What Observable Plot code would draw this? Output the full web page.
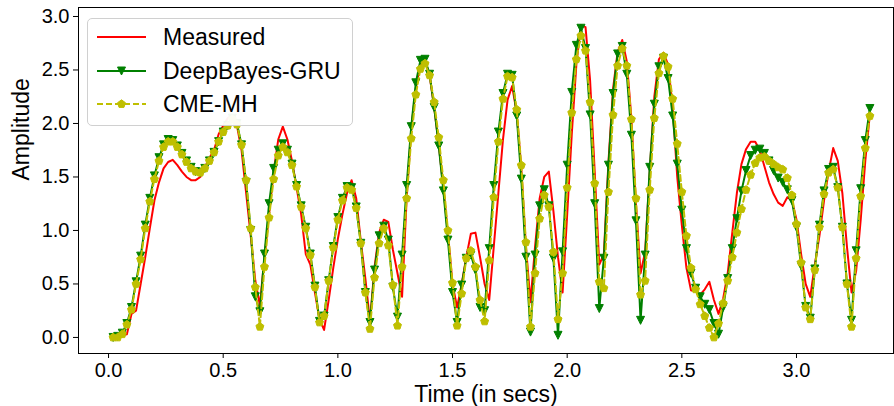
<!DOCTYPE html>
<html>
<head>
<meta charset="utf-8">
<script src="https://cdn.jsdelivr.net/npm/d3@7"></script>
<script src="https://cdn.jsdelivr.net/npm/@observablehq/plot@0.6"></script>
<style>
  html, body { margin: 0; padding: 0; background: #fff; }
  #wrap { position: relative; width: 894px; height: 406px; font-family: "Liberation Sans", Arial, sans-serif; }
  #wrap svg.plot { position: relative; z-index: 0; }
  .legend { position: absolute; z-index: 2; left: 87px; top: 18px; width: 266px; height: 108px; box-sizing: border-box;
            border: 1px solid #d0d0d0; border-radius: 5px; background: rgba(255,255,255,0.95); }
  .legend svg { position: absolute; left: 8px; }
  .legend span { position: absolute; left: 75px; font-size: 23px; line-height: 26px; color: #000; white-space: nowrap; }
</style>
</head>
<body>
<div id="wrap"></div>
<script>
// Sample times (secs): uniform 0.02 s grid, 166 samples
const sampleStep = 0.02;
const sampleCount = 166;
const time = d3.range(sampleCount).map(i => +(sampleStep * (i + 1)).toFixed(2));

const seriesNames = ["Measured", "DeepBayes-GRU", "CME-MH"];

const measured = [
  0.00,0.00,0.02,0.03,0.22,0.25,0.50,0.75,1.02,1.28,
  1.45,1.58,1.64,1.66,1.61,1.55,1.50,1.47,1.47,1.50,
  1.59,1.68,1.75,1.90,1.98,2.05,2.08,1.98,1.75,1.35,
  0.95,0.53,0.30,0.75,1.15,1.55,1.85,1.97,1.85,1.65,
  1.40,1.15,0.78,0.68,0.42,0.17,0.07,0.35,0.65,0.92,
  1.15,1.35,1.47,1.30,0.90,0.55,0.15,0.66,0.98,1.10,
  1.08,0.82,0.60,0.38,1.30,1.95,2.33,2.55,2.59,2.45,
  2.15,1.80,1.40,0.97,0.50,0.28,0.50,0.75,0.97,0.98,
  0.75,0.50,0.35,0.85,1.35,1.85,2.22,2.35,2.10,1.58,
  0.85,0.33,0.85,1.30,1.50,1.55,1.18,0.75,0.42,1.15,
  1.90,2.55,2.92,2.90,2.40,1.55,0.68,0.78,1.64,2.32,
  2.67,2.78,2.58,2.05,1.25,0.60,0.80,1.55,2.25,2.60,
  2.66,2.55,2.15,1.50,1.05,0.65,0.44,0.44,0.40,0.45,
  0.52,0.35,0.22,0.36,0.60,0.98,1.35,1.62,1.76,1.83,
  1.83,1.75,1.60,1.45,1.34,1.26,1.23,1.31,1.28,1.10,
  0.78,0.50,0.38,0.68,0.95,1.28,1.55,1.77,1.65,1.35,
  0.85,0.42,0.62,1.10,1.65,2.09
];

const deepBayesGRU = [
  0.00,0.01,0.04,0.13,0.28,0.52,0.76,1.05,1.30,1.51,
  1.68,1.80,1.85,1.84,1.79,1.72,1.65,1.59,1.55,1.54,
  1.58,1.65,1.73,1.83,1.92,1.98,2.05,2.00,1.80,1.45,
  1.00,0.38,0.24,0.78,1.25,1.58,1.75,1.81,1.75,1.62,
  1.42,1.23,1.03,0.78,0.48,0.15,0.20,0.53,0.85,1.12,
  1.30,1.41,1.40,1.22,0.88,0.42,0.14,0.63,0.95,1.04,
  0.91,0.47,0.19,0.77,1.42,1.97,2.38,2.59,2.60,2.46,
  2.15,1.79,1.37,0.91,0.42,0.14,0.49,0.74,0.77,0.63,
  0.28,0.25,0.83,1.42,1.92,2.28,2.46,2.45,2.07,1.48,
  0.75,0.05,0.77,1.23,1.38,1.23,0.74,0.02,0.80,1.61,
  2.29,2.73,2.89,2.70,2.08,1.25,0.27,0.74,1.61,2.28,
  2.65,2.72,2.46,1.89,1.09,0.16,0.77,1.59,2.18,2.53,
  2.61,2.42,2.07,1.62,1.19,0.83,0.60,0.46,0.38,0.31,
  0.26,0.13,0.03,0.28,0.55,0.83,1.11,1.37,1.56,1.70,
  1.75,1.76,1.72,1.65,1.56,1.49,1.45,1.38,1.28,1.03,
  0.67,0.29,0.18,0.64,1.05,1.37,1.57,1.59,1.40,1.03,
  0.50,0.16,0.81,1.39,1.84,2.14
];

const cmeMH = [
  0.00,0.00,0.03,0.12,0.26,0.50,0.73,1.02,1.27,1.48,
  1.65,1.78,1.83,1.83,1.78,1.71,1.64,1.58,1.55,1.54,
  1.58,1.65,1.73,1.83,1.92,1.98,2.04,1.99,1.80,1.47,
  1.02,0.47,0.10,0.66,1.12,1.48,1.70,1.78,1.73,1.61,
  1.41,1.22,1.02,0.77,0.47,0.14,0.20,0.53,0.84,1.10,
  1.28,1.40,1.38,1.21,0.88,0.42,0.08,0.56,0.88,1.02,
  0.86,0.49,0.11,0.66,1.30,1.86,2.27,2.51,2.56,2.45,
  2.20,1.87,1.47,1.00,0.51,0.11,0.41,0.74,0.81,0.66,
  0.35,0.15,0.72,1.31,1.83,2.23,2.44,2.43,2.13,1.61,
  0.89,0.10,0.60,1.11,1.33,1.22,0.80,0.17,0.60,1.40,
  2.10,2.60,2.82,2.68,2.20,1.44,0.52,0.46,1.36,2.08,
  2.54,2.70,2.54,2.04,1.30,0.40,0.53,1.38,2.05,2.47,
  2.63,2.53,2.23,1.81,1.36,0.95,0.65,0.45,0.31,0.20,
  0.09,0.00,0.13,0.32,0.53,0.75,0.98,1.20,1.38,1.52,
  1.63,1.68,1.69,1.65,1.62,1.59,1.57,1.49,1.33,1.06,
  0.70,0.28,0.17,0.63,1.03,1.34,1.54,1.57,1.40,1.03,
  0.50,0.10,0.74,1.32,1.77,2.07
];

const xTicks = [0.0, 0.5, 1.0, 1.5, 2.0, 2.5, 3.0];
const yTicks = [0.0, 0.5, 1.0, 1.5, 2.0, 2.5, 3.0];
const xLabel = "Time (in secs)";
const yLabel = "Amplitude";

const colors = { "Measured": "#ff0000", "DeepBayes-GRU": "#008000", "CME-MH": "#bfbf00" };

function toRows(values, name) {
  return values.map((v, i) => ({ t: time[i], v, series: name }));
}
const rowsMeasured = toRows(measured, seriesNames[0]);
const rowsGRU = toRows(deepBayesGRU, seriesNames[1]);
const rowsCME = toRows(cmeMH, seriesNames[2]);

// custom marker symbols
const triangleDown = {
  draw(ctx, size) {
    const r = Math.sqrt(size / Math.PI);
    ctx.moveTo(0, r);
    ctx.lineTo(-r, -r);
    ctx.lineTo(r, -r);
    ctx.closePath();
  }
};
const pentagon = {
  draw(ctx, size) {
    const r = Math.sqrt(size / Math.PI) * 1.1;
    for (let k = 0; k < 5; k++) {
      const a = -Math.PI / 2 + k * 2 * Math.PI / 5;
      const x = r * Math.cos(a), y = r * Math.sin(a);
      if (k === 0) ctx.moveTo(x, y); else ctx.lineTo(x, y);
    }
    ctx.closePath();
  }
};

const chart = Plot.plot({
  width: 894,
  height: 406,
  marginLeft: 78,
  marginRight: 1,
  marginTop: 7,
  marginBottom: 53,
  style: { fontFamily: "'Liberation Sans', Arial, sans-serif", fontSize: "20px", color: "#000", background: "#fff", overflow: "visible" },
  x: { domain: [-0.131, 3.423] },
  y: { domain: [-0.15, 3.084] },
  marks: [
    Plot.axisX({ ticks: xTicks, tickFormat: d3.format(".1f"), tickSize: 5, tickPadding: 4, label: null, fontSize: 20 }),
    Plot.axisY({ ticks: yTicks, tickFormat: d3.format(".1f"), tickSize: 5, tickPadding: 4, label: null, fontSize: 20 }),
    Plot.line(rowsMeasured, { x: "t", y: "v", stroke: colors["Measured"], strokeWidth: 2 }),
    Plot.line(rowsGRU, { x: "t", y: "v", stroke: colors["DeepBayes-GRU"], strokeWidth: 2 }),
    Plot.dot(rowsGRU, { x: "t", y: "v", symbol: triangleDown, r: 4, fill: colors["DeepBayes-GRU"], stroke: colors["DeepBayes-GRU"], strokeWidth: 1 }),
    Plot.line(rowsCME, { x: "t", y: "v", stroke: colors["CME-MH"], strokeWidth: 2, strokeDasharray: "6,3" }),
    Plot.dot(rowsCME, { x: "t", y: "v", symbol: pentagon, r: 3.8, fill: colors["CME-MH"], stroke: colors["CME-MH"], strokeWidth: 1 }),
    Plot.frame({ stroke: "#000", strokeWidth: 1 }),
    Plot.text([xLabel], { frameAnchor: "bottom", lineAnchor: "middle", dy: 41, fontSize: 23, text: d => d, fill: "#000" }),
    Plot.text([yLabel], { frameAnchor: "left", dx: -57, rotate: -90, fontSize: 23, text: d => d, fill: "#000" })
  ]
});

const wrap = document.getElementById("wrap");
wrap.appendChild(chart);

// legend
const legend = document.createElement("div");
legend.className = "legend";
const rowsY = [18, 52, 85];
const ns = "http://www.w3.org/2000/svg";
seriesNames.forEach((name, k) => {
  const svg = document.createElementNS(ns, "svg");
  svg.setAttribute("width", "52");
  svg.setAttribute("height", "14");
  svg.style.top = (rowsY[k] - 7) + "px";
  const line = document.createElementNS(ns, "line");
  line.setAttribute("x1", "1"); line.setAttribute("x2", "50");
  line.setAttribute("y1", "7"); line.setAttribute("y2", "7");
  line.setAttribute("stroke", colors[name]);
  line.setAttribute("stroke-width", "2");
  if (name === "CME-MH") line.setAttribute("stroke-dasharray", "6,3");
  svg.appendChild(line);
  if (name !== "Measured") {
    const p = d3.path();
    (name === "CME-MH" ? pentagon : triangleDown).draw(p, (name === "CME-MH" ? 3.8 : 4) ** 2 * Math.PI);
    const path = document.createElementNS(ns, "path");
    path.setAttribute("d", p.toString());
    path.setAttribute("transform", "translate(25.5,7)");
    path.setAttribute("fill", colors[name]);
    path.setAttribute("stroke", colors[name]);
    svg.appendChild(path);
  }
  legend.appendChild(svg);
  const span = document.createElement("span");
  span.textContent = name;
  span.style.top = (rowsY[k] - 13) + "px";
  legend.appendChild(span);
});
wrap.appendChild(legend);
</script>
</body>
</html>
